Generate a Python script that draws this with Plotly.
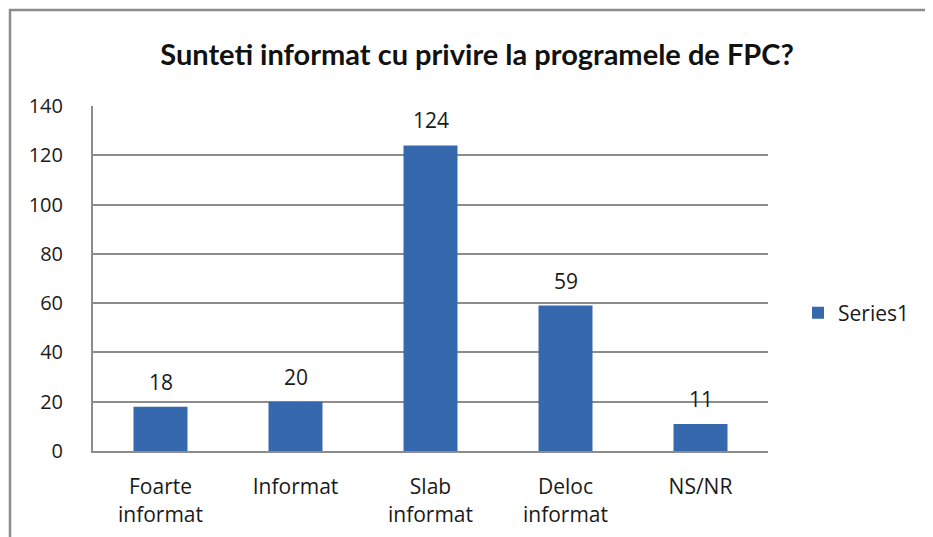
import plotly.graph_objects as go

categories = ["Foarte<br>informat", "Informat", "Slab<br>informat", "Deloc<br>informat", "NS/NR"]
values = [18, 20, 124, 59, 11]
series_name = "Series1"
title_text = "<b>Sunteti informat cu privire la programele de FPC?</b>"
y_ticks = [0, 20, 40, 60, 80, 100, 120, 140]

FONT = "Lato, 'Open Sans', sans-serif"
FONT2 = "'Open Sans', Lato, sans-serif"
OFF = 8  # page body margin
W, H = 933 - OFF, 537 - OFF
# plot area in page pixels: x 93..768, y 106..451
L, R = 93 - OFF, W - (768 - OFF)
T, B = 106 - OFF, H - (451 - OFF)
pw, ph = W - L - R, H - T - B

def px_x(p):
    return (p - OFF - L) / pw

def px_y(p):
    return (H - B - (p - OFF)) / ph

fig = go.Figure()
fig.add_trace(go.Bar(
    x=categories, y=values, name=series_name,
    marker=dict(color="#3668AE", line=dict(width=0)),
    width=0.4,
    showlegend=True,
))

for c, v in zip(categories, values):
    fig.add_annotation(x=c, y=v, text=str(v), showarrow=False,
                       yanchor="bottom", yshift=9,
                       font=dict(size=21, color="#1a1a1a", family=FONT2))

fig.update_layout(
    width=W, height=H,
    margin=dict(l=L, r=R, t=T, b=B, pad=0),
    paper_bgcolor="white", plot_bgcolor="white",
    font=dict(family=FONT2, size=20, color="#1a1a1a"),
    title=dict(text=title_text, x=(477 - OFF) / W, xanchor="center",
               y=1 - (55 - OFF) / H, yanchor="middle",
               font=dict(size=29, family=FONT, color="#111")),
    legend=dict(x=px_x(798), xanchor="left", y=0.4, yanchor="middle",
                font=dict(size=21, family=FONT2), bgcolor="rgba(0,0,0,0)"),
    xaxis=dict(showgrid=False, showline=True, linecolor="#8c8c8c", linewidth=2,
               ticks="", tickfont=dict(size=21, family=FONT2), automargin=False,
               ticklabelstandoff=16),
    yaxis=dict(range=[0, 140], tickvals=y_ticks, showgrid=True, gridcolor="#8c8c8c", gridwidth=2,
               showline=True, linecolor="#8c8c8c", linewidth=2, zeroline=False,
               ticks="", tickfont=dict(size=20, family=FONT2), automargin=False,
               ticklabelstandoff=24),
    shapes=[dict(type="rect", xref="paper", yref="paper",
                 x0=px_x(10), x1=px_x(945), y0=px_y(560), y1=px_y(10),
                 line=dict(color="#8c8c8c", width=2.5), layer="below")],
)

fig.write_html("out.html")
